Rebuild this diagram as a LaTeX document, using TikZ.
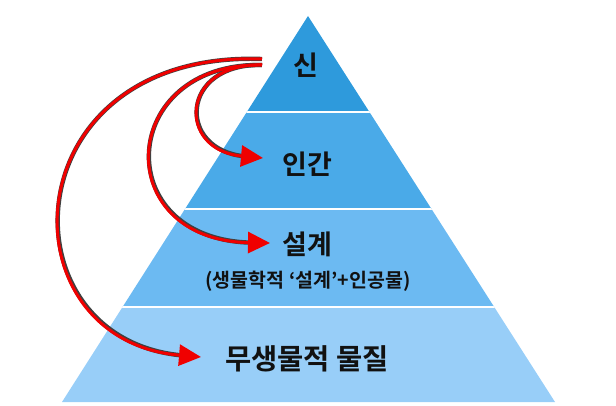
\documentclass[tikz,border=0pt]{standalone}
\usepackage{fontspec}
\newfontfamily\kr{Noto Sans CJK KR}[BoldFont={Noto Sans CJK KR Bold}]
\usetikzlibrary{arrows.meta}
\definecolor{layA}{RGB}{46,154,220}
\definecolor{layB}{RGB}{74,170,232}
\definecolor{layC}{RGB}{108,186,242}
\definecolor{layD}{RGB}{152,206,248}
\definecolor{arrred}{RGB}{240,0,0}
\definecolor{txt}{RGB}{17,17,17}
\begin{document}
\begin{tikzpicture}[x=1pt,y=-1pt,
  lbl/.style={text=txt,inner sep=0pt,font=\kr\bfseries\fontsize{27}{30}\selectfont},
  biglbl/.style={text=txt,inner sep=0pt,font=\kr\bfseries\fontsize{28.5}{32}\selectfont},
  sublbl/.style={text=txt,inner sep=0pt,font=\kr\bfseries\fontsize{19.5}{22}\selectfont},
  outline/.style={draw=black!75,line width=4.4pt},
  redline/.style={draw=arrred,line width=3pt,-{Triangle[length=22pt,width=21pt]}},
  sep/.style={draw=white,line width=1.8pt}]
\useasboundingbox (0,0) rectangle (616,406);
\coordinate (apex) at (308,16);
\coordinate (bl) at (62,402);
\coordinate (br) at (555,402);
\begin{scope}
  \clip (apex) -- (bl) -- (br) -- cycle;
  \fill[layA] (0,0) rectangle (616,112);
  \fill[layB] (0,112) rectangle (616,209);
  \fill[layC] (0,209) rectangle (616,307);
  \fill[layD] (0,307) rectangle (616,406);
  \draw[sep] (0,112) -- (616,112);
  \draw[sep] (0,209) -- (616,209);
  \draw[sep] (0,307) -- (616,307);
\end{scope}
\node[lbl] (god) at (306,65) {신};
\node[lbl] (human) at (307,164) {인간};
\node[lbl] (design) at (307,244) {설계};
\node[sublbl] (designsub) at (308,281) {(생물학적 ‘설계’+인공물)};
\node[biglbl] (matter) at (307,359) {무생물적 물질};
\coordinate (s1) at (262,65);
\coordinate (s3) at (262,59);
\coordinate (t1) at (263,158);
\coordinate (t2) at (270,243);
\coordinate (t3) at (201,357);
% outlines
\draw[outline,shorten >=18pt] (s3) .. controls (10,50) and (0,340) .. (t3);
\draw[outline,shorten >=18pt] (s1) .. controls (118,62) and (108,240) .. (t2);
\draw[outline,shorten >=18pt] (s1) .. controls (180,63) and (176,150) .. (t1);
% red strokes
\draw[redline] (s3) .. controls (10,50) and (0,340) .. (t3);
\draw[redline] (s1) .. controls (118,62) and (108,240) .. (t2);
\draw[redline] (s1) .. controls (180,63) and (176,150) .. (t1);
\end{tikzpicture}
\end{document}
